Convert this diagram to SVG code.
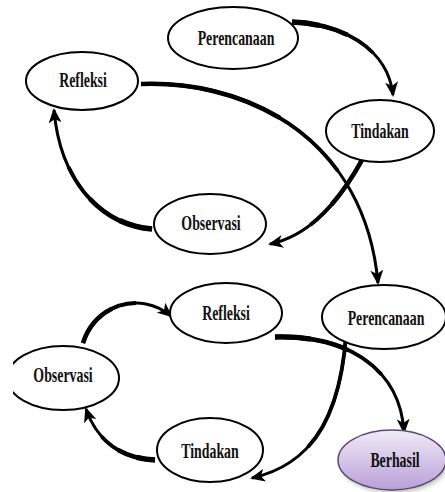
<svg xmlns="http://www.w3.org/2000/svg" width="445" height="492" viewBox="0 0 445 492">
<defs>
<style>
.n{fill:#fff;stroke:#000;stroke-width:2}
.t{font-family:"Liberation Serif","Times New Roman",serif;font-weight:bold;font-size:21px;fill:#111;text-anchor:middle}
.a{fill:none;stroke:#000;stroke-width:3;marker-end:url(#ah)}
.w1{fill:none;stroke:#000;stroke-width:3.8;stroke-dasharray:65 200}
.w2{fill:none;stroke:#000;stroke-width:4.6;stroke-dasharray:42 200}
.w3{fill:none;stroke:#000;stroke-width:5.4;stroke-dasharray:20 200}
</style>
<marker id="ah" markerUnits="userSpaceOnUse" markerWidth="16" markerHeight="13" refX="13" refY="6.5" orient="auto">
<path d="M0,0 L15,6.5 L0,13 L4,6.5 z" fill="#000"/>
</marker>
<linearGradient id="pg" x1="0" y1="0" x2="0" y2="1">
<stop offset="0" stop-color="#f1ecf7"/>
<stop offset="1" stop-color="#b99ed8"/>
</linearGradient>
<filter id="sh" x="-20%" y="-20%" width="140%" height="140%">
<feGaussianBlur stdDeviation="2"/>
</filter>
<clipPath id="cl"><rect x="13" y="330" width="120" height="100"/></clipPath>
</defs>
<rect width="445" height="492" fill="#fff"/>

<g id="connectors">
<path class="a" d="M292,22 C345,24 388,50 393,95"/>
<path class="w1" pathLength="100" d="M292,22 C345,24 388,50 393,95"/>
<path class="w2" pathLength="100" d="M292,22 C345,24 388,50 393,95"/>
<path class="w3" pathLength="100" d="M292,22 C345,24 388,50 393,95"/>

<path class="a" d="M362,160 C340,200 310,236 270,244"/>
<path class="w1" pathLength="100" d="M362,160 C340,200 310,236 270,244"/>
<path class="w2" pathLength="100" d="M362,160 C340,200 310,236 270,244"/>

<path class="a" d="M152,229 C100,225 60,180 54,110"/>
<path class="w1" pathLength="100" d="M152,229 C100,225 60,180 54,110"/>
<path class="w2" pathLength="100" d="M152,229 C100,225 60,180 54,110"/>
<path class="w3" pathLength="100" d="M152,229 C100,225 60,180 54,110"/>

<path class="a" d="M141,84 C250,80 365,140 378,283"/>
<path class="w1" pathLength="100" d="M141,84 C250,80 365,140 378,283"/>
<path class="w2" pathLength="100" d="M141,84 C250,80 365,140 378,283"/>

<path class="a" d="M83,343 C95,305 140,290 171,316"/>
<path class="w1" pathLength="100" d="M83,343 C95,305 140,290 171,316"/>
<path class="w2" pathLength="100" d="M83,343 C95,305 140,290 171,316"/>

<path class="a" d="M275,337 C350,335 400,370 404,432"/>
<path class="w1" pathLength="100" d="M275,337 C350,335 400,370 404,432"/>
<path class="w2" pathLength="100" d="M275,337 C350,335 400,370 404,432"/>
<path class="w3" pathLength="100" d="M275,337 C350,335 400,370 404,432"/>

<path class="a" d="M346,335 C340,420 310,465 252,478"/>
<path class="w1" pathLength="100" d="M346,335 C340,420 310,465 252,478"/>

<path class="a" d="M155,460 C115,458 95,435 86,409"/>
<path class="w1" pathLength="100" d="M155,460 C115,458 95,435 86,409"/>
<path class="w2" pathLength="100" d="M155,460 C115,458 95,435 86,409"/>
<path class="w3" pathLength="100" d="M155,460 C115,458 95,435 86,409"/>
</g>

<g id="perencanaan1">
<ellipse class="n" cx="233" cy="38" rx="65" ry="31"/>
<text class="t" transform="translate(236,45) scale(0.66,1)">Perencanaan</text>
</g>
<g id="refleksi1">
<ellipse class="n" cx="82" cy="81" rx="56" ry="29"/>
<text class="t" transform="translate(83,87) scale(0.66,1)">Refleksi</text>
</g>
<g id="tindakan1">
<ellipse class="n" cx="380" cy="131" rx="54" ry="31"/>
<text class="t" transform="translate(380,138) scale(0.66,1)">Tindakan</text>
</g>
<g id="observasi1">
<ellipse class="n" cx="210" cy="224" rx="56" ry="30"/>
<text class="t" transform="translate(211,230) scale(0.66,1)">Observasi</text>
</g>
<g id="refleksi2">
<ellipse class="n" cx="226" cy="313" rx="56" ry="30"/>
<text class="t" transform="translate(226,320) scale(0.66,1)">Refleksi</text>
</g>
<g id="perencanaan2">
<ellipse class="n" cx="384" cy="317" rx="62" ry="32"/>
<text class="t" transform="translate(386,325) scale(0.66,1)">Perencanaan</text>
</g>
<g id="observasi2">
<ellipse class="n" cx="63" cy="378" rx="56" ry="32" clip-path="url(#cl)"/>
<text class="t" transform="translate(63,382) scale(0.66,1)">Observasi</text>
</g>
<g id="tindakan2">
<ellipse class="n" cx="210" cy="450" rx="53" ry="32"/>
<text class="t" transform="translate(210,458) scale(0.66,1)">Tindakan</text>
</g>
<g id="berhasil">
<ellipse cx="394" cy="463" rx="54" ry="30" fill="#888" opacity="0.5" filter="url(#sh)"/>
<ellipse cx="392" cy="460" rx="54" ry="30" fill="url(#pg)" stroke="#5a4a70" stroke-width="1.5"/>
<text class="t" transform="translate(395,467) scale(0.66,1)">Berhasil</text>
</g>
</svg>
